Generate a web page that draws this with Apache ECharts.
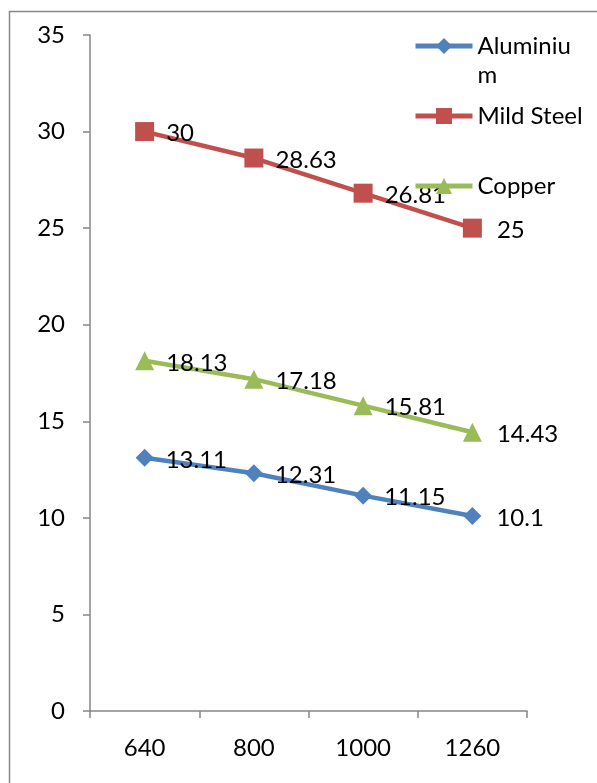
<!DOCTYPE html>
<html>
<head>
<meta charset="utf-8">
<script src="https://cdn.jsdelivr.net/npm/echarts@6/dist/echarts.min.js"></script>
<style>
  html, body { margin: 0; padding: 0; background: #fff; }
  #chart { width: 597px; height: 783px; }
</style>
</head>
<body>
<div id="chart"></div>
<script>
// Speeds on the x axis
const categories = ['640', '800', '1000', '1260'];
// Measured values per material
const aluminium = [13.11, 12.31, 11.15, 10.1];
const mildSteel = [30, 28.63, 26.81, 25];
const copper = [18.13, 17.18, 15.81, 14.43];

const FONT = 'Lato, "Open Sans", sans-serif';
const TEXT = '#000';
const FS = 24;

// Point labels sit to the right of each marker; the last one a bit further out
function withLabels(values) {
  return values.map((v, i) => ({
    value: v,
    label: { distance: i === values.length - 1 ? 15 : 12 }
  }));
}

function lineSeries(name, values, color, symbol, size) {
  return {
    name: name,
    type: 'line',
    data: withLabels(values),
    symbol: symbol,
    symbolSize: size,
    lineStyle: { color: color, width: 4.5 },
    itemStyle: { color: color },
    label: {
      show: true,
      position: 'right',
      color: TEXT,
      fontFamily: FONT,
      fontSize: FS,
      offset: [0, 2]
    },
    emphasis: { disabled: true },
    animation: false
  };
}

// One legend block per series so each entry can be placed on its own row;
// the wrapped "Aluminiu / m" entry keeps its first line level with the icon.
function legendFor(name, top, extraText) {
  return {
    data: [name],
    left: 413,
    top: top,
    orient: 'vertical',
    padding: 0,
    itemWidth: 57,
    itemHeight: 20,
    selectedMode: false,
    lineStyle: { width: 5 },
    formatter: n => n === 'Aluminium' ? '\nAluminiu\nm' : n,
    textStyle: Object.assign({
      color: TEXT,
      fontFamily: FONT,
      fontSize: FS
    }, extraText || {})
  };
}

const chart = echarts.init(document.getElementById('chart'), null, { renderer: 'canvas' });

chart.setOption({
  backgroundColor: '#fff',
  animation: false,
  grid: { left: 90, right: 70, top: 35, bottom: 72 },
  graphic: [{
    type: 'rect',
    left: 7, top: 9,
    shape: { width: 640, height: 820 },
    style: { fill: 'none', stroke: '#888', lineWidth: 1.5 },
    silent: true
  }],
  legend: [
    legendFor('Aluminium', 2.5, { lineHeight: 29 }),
    legendFor('Mild Steel', 104),
    legendFor('Copper', 174)
  ],
  xAxis: {
    type: 'category',
    data: categories,
    boundaryGap: true,
    axisLine: { lineStyle: { color: '#868686', width: 1.5 } },
    axisTick: { show: true, length: 7, alignWithLabel: false, lineStyle: { color: '#868686', width: 1.5 } },
    axisLabel: { color: TEXT, fontFamily: FONT, fontSize: FS, margin: 25 },
    splitLine: { show: false }
  },
  yAxis: {
    type: 'value',
    min: 0,
    max: 35,
    interval: 5,
    axisLine: { show: true, lineStyle: { color: '#868686', width: 1.5 } },
    axisTick: { show: true, length: 7, lineStyle: { color: '#868686', width: 1.5 } },
    axisLabel: { color: TEXT, fontFamily: FONT, fontSize: FS, margin: 25 },
    splitLine: { show: false }
  },
  series: [
    lineSeries('Aluminium', aluminium, '#4F81BD', 'diamond', 18),
    lineSeries('Mild Steel', mildSteel, '#C0504D', 'rect', 19),
    lineSeries('Copper', copper, '#9BBB59', 'triangle', 19)
  ]
});
</script>
</body>
</html>
